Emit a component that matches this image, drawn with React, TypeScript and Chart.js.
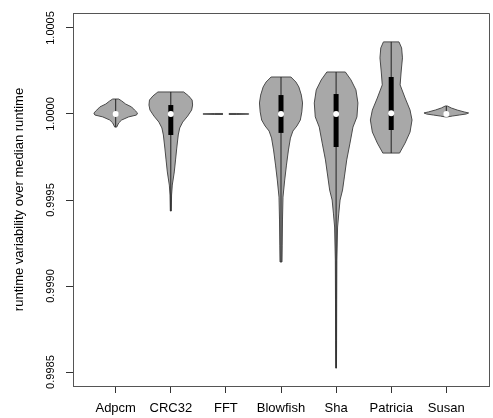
import { useEffect, useRef } from 'react';
import { Chart, registerables } from 'chart.js';

Chart.register(...registerables);

const FONT = '"Liberation Sans", Arial, Helvetica, sans-serif';

const categories = ['Adpcm', 'CRC32', 'FFT', 'Blowfish', 'Sha', 'Patricia', 'Susan'];
const yTickValues = [0.9985, 0.999, 0.9995, 1.0, 1.0005];

// violin outlines: value levels (top -> bottom) and half widths (in category units)
const adpcmValues = [1.000087, 1.000076, 1.000058, 1.000041, 1.000023, 1.000006, 0.999994, 0.999983, 0.999965, 0.999948, 0.999924];
const adpcmWidths = [0.054, 0.108, 0.18, 0.288, 0.342, 0.396, 0.378, 0.234, 0.108, 0.054, 0.018];

const crc32Values = [1.000128, 1.000105, 1.000081, 1.000052, 1.000023, 0.999988, 0.999953, 0.999919, 0.999878, 0.999802, 0.999733, 0.999663, 0.999587, 0.999529, 0.999436];
const crc32Widths = [0.234, 0.324, 0.387, 0.396, 0.378, 0.306, 0.216, 0.162, 0.135, 0.108, 0.086, 0.063, 0.027, 0.014, 0.009];

const fftValues = [1.000003, 1.000001, 0.999999, 0.999997];
const fftWidths = [0.2, 0.414, 0.414, 0.2];

const blowfishValues = [1.000215, 1.000186, 1.000157, 1.00011, 1.000064, 1.000012, 0.999965, 0.99993, 0.999901, 0.99986, 0.999791, 0.999703, 0.999616, 0.999517, 0.999384, 0.999238, 0.99914];
const blowfishWidths = [0.18, 0.27, 0.324, 0.369, 0.391, 0.378, 0.351, 0.288, 0.216, 0.171, 0.135, 0.099, 0.067, 0.036, 0.027, 0.022, 0.018];

const shaValues = [1.000244, 1.000198, 1.00014, 1.000064, 0.999983, 0.999924, 0.999831, 0.999733, 0.999634, 0.999558, 0.9995, 0.999424, 0.999343, 0.999151, 0.998919, 0.998686, 0.998523];
const shaWidths = [0.168, 0.27, 0.36, 0.396, 0.378, 0.306, 0.252, 0.193, 0.15, 0.117, 0.072, 0.049, 0.027, 0.014, 0.011, 0.009, 0.007];

const patriciaValues = [1.000419, 1.000384, 1.000326, 1.000244, 1.000169, 1.000093, 1.000023, 0.999965, 0.999895, 0.999831, 0.999779, 0.999773];
const patriciaWidths = [0.141, 0.189, 0.204, 0.18, 0.162, 0.252, 0.342, 0.378, 0.342, 0.252, 0.162, 0.153];

const susanValues = [1.0000465, 1.000035, 1.000023, 1.000012, 1.000006, 1.0, 0.999994, 0.999988, 0.999983];
const susanWidths = [0.018, 0.09, 0.198, 0.324, 0.405, 0.36, 0.234, 0.108, 0.018];

const violinValues = [adpcmValues, crc32Values, fftValues, blowfishValues, shaValues, patriciaValues, susanValues];
const violinWidths = [adpcmWidths, crc32Widths, fftWidths, blowfishWidths, shaWidths, patriciaWidths, susanWidths];

// box statistics
const medians = [1.0, 1.0, 1.0, 1.0, 1.0, 1.000005, 1.0];
const lowerQuartiles = [0.999994, 0.999878, 1.0, 0.99989, 0.999808, 0.999907, 0.999995];
const upperQuartiles = [1.000006, 1.000052, 1.0, 1.00011, 1.000116, 1.000215, 1.000005];
const whiskerLows = [0.999924, 0.999436, 0.999997, 0.99914, 0.998523, 0.999773, 0.999983];
const whiskerHighs = [1.000087, 1.000128, 1.000003, 1.000215, 1.000244, 1.000419, 1.0000465];

const violinPlugin = {
  id: 'violins',
  beforeDatasetsDraw(chart: any) {
    const { ctx, scales } = chart;
    const x = scales.x;
    const y = scales.y;
    ctx.save();
    violinValues.forEach((vals, i) => {
      const widths = violinWidths[i];
      const cx = i + 1;
      ctx.beginPath();
      vals.forEach((v, k) => {
        const px = x.getPixelForValue(cx + widths[k]);
        const py = y.getPixelForValue(v);
        if (k === 0) ctx.moveTo(px, py);
        else ctx.lineTo(px, py);
      });
      for (let k = vals.length - 1; k >= 0; k--) {
        ctx.lineTo(x.getPixelForValue(cx - widths[k]), y.getPixelForValue(vals[k]));
      }
      ctx.closePath();
      ctx.fillStyle = '#a8a8a8';
      ctx.fill();
      ctx.strokeStyle = '#4a4a4a';
      ctx.lineWidth = 1;
      ctx.stroke();
    });
    ctx.restore();
  },
  afterDraw(chart: any) {
    const { ctx, chartArea, scales } = chart;
    const y = scales.y;
    ctx.save();
    // top and right frame
    ctx.strokeStyle = '#555';
    ctx.lineWidth = 1;
    ctx.beginPath();
    ctx.moveTo(chartArea.left, chartArea.top + 0.5);
    ctx.lineTo(chartArea.right + 0.5, chartArea.top + 0.5);
    ctx.lineTo(chartArea.right + 0.5, chartArea.bottom);
    ctx.stroke();
    // rotated y tick labels
    ctx.fillStyle = '#000';
    ctx.font = '11px ' + FONT;
    ctx.textAlign = 'center';
    ctx.textBaseline = 'middle';
    yTickValues.forEach((v) => {
      const py = y.getPixelForValue(v);
      ctx.save();
      ctx.translate(chartArea.left - 22, py);
      ctx.rotate(-Math.PI / 2);
      ctx.fillText(v.toFixed(4), 0, 0);
      ctx.restore();
    });
    ctx.restore();
  },
};

export default function App() {
  const canvasRef = useRef<HTMLCanvasElement | null>(null);

  useEffect(() => {
    const canvas = canvasRef.current;
    if (!canvas) return;

    const datasets: any[] = [];
    categories.forEach((_, i) => {
      datasets.push({
        label: 'whisker ' + categories[i],
        order: 3,
        data: [
          { x: i + 1, y: whiskerLows[i] },
          { x: i + 1, y: whiskerHighs[i] },
        ],
        showLine: true,
        borderColor: '#222',
        borderWidth: 1,
        pointRadius: 0,
        borderCapStyle: 'butt',
      });
    });
    categories.forEach((_, i) => {
      datasets.push({
        label: 'box ' + categories[i],
        order: 2,
        data: [
          { x: i + 1, y: lowerQuartiles[i] },
          { x: i + 1, y: upperQuartiles[i] },
        ],
        showLine: true,
        borderColor: '#000',
        borderWidth: 5,
        pointRadius: 0,
        borderCapStyle: 'butt',
      });
    });
    datasets.push({
      label: 'median',
      order: 1,
      data: medians.map((m, i) => ({ x: i + 1, y: m })),
      showLine: false,
      pointRadius: 3,
      pointBackgroundColor: '#fff',
      pointBorderWidth: 0,
      pointBorderColor: '#fff',
    });

    const chart = new Chart(canvas, {
      type: 'scatter',
      data: { datasets },
      plugins: [violinPlugin],
      options: {
        animation: false,
        responsive: false,
        maintainAspectRatio: false,
        layout: { padding: { top: 13, right: 1, left: 0, bottom: 0 } },
        plugins: {
          legend: { display: false },
          tooltip: { enabled: false },
        },
        scales: {
          x: {
            type: 'linear',
            min: 0.225,
            max: 7.775,
            afterBuildTicks: (s: any) => {
              s.ticks = categories.map((_, i) => ({ value: i + 1 }));
            },
            afterFit: (s: any) => {
              s.height = 32;
            },
            grid: { drawOnChartArea: false, drawTicks: true, tickLength: 7, color: '#333', lineWidth: 1 },
            border: { display: true, color: '#555', width: 1 },
            ticks: {
              autoSkip: false,
              maxRotation: 0,
              minRotation: 0,
              padding: 8,
              color: '#000',
              font: { family: FONT, size: 13 },
              callback: (_v: any, index: number) => categories[index],
            },
          },
          y: {
            type: 'linear',
            min: 0.998419,
            max: 1.000587,
            afterBuildTicks: (s: any) => {
              s.ticks = yTickValues.map((v) => ({ value: v }));
            },
            afterFit: (s: any) => {
              s.width = 73;
            },
            grid: { drawOnChartArea: false, drawTicks: true, tickLength: 7, color: '#333', lineWidth: 1 },
            border: { display: true, color: '#555', width: 1 },
            ticks: { display: false },
            title: {
              display: true,
              text: 'runtime variability over median runtime',
              color: '#000',
              font: { family: FONT, size: 13 },
              padding: { top: 12, bottom: 0 },
            },
          },
        },
      } as any,
    });

    return () => {
      chart.destroy();
    };
  }, []);

  return (
    <div style={{ position: 'absolute', left: 0, top: 0, width: 493, height: 418, background: '#fff' }}>
      <canvas ref={canvasRef} width={493} height={418} style={{ width: 493, height: 418, display: 'block' }} />
    </div>
  );
}
